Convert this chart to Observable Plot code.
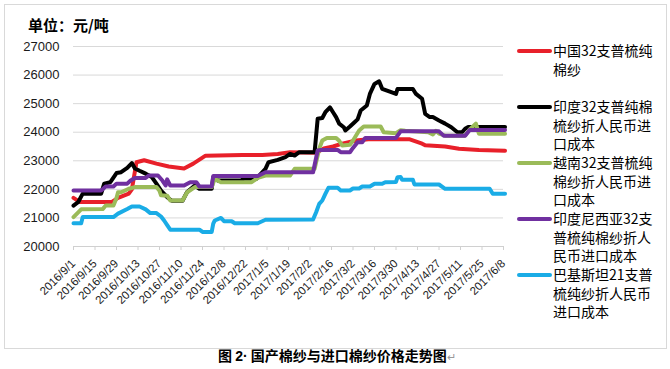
<!DOCTYPE html>
<html>
<head>
<meta charset="utf-8">
<script src="https://cdn.jsdelivr.net/npm/d3@7"></script>
<script src="https://cdn.jsdelivr.net/npm/@observablehq/plot@0.6"></script>
<style>
  html, body { margin: 0; padding: 0; background: #fff; overflow: hidden; }
  #wrap { position: relative; width: 670px; height: 369px; background: #fff; font-family: "Noto Sans CJK SC", "Liberation Sans", sans-serif; }
  #frame { position: absolute; left: 4px; top: 4px; width: 661px; height: 343px; border: 1px solid #d9d9d9; }
  #title { position: absolute; left: 28px; top: 17px; font-size: 15px; line-height: 16px; font-weight: bold; color: #000; white-space: nowrap; }
  #chart { position: absolute; left: 0; top: 0; }
  .lg-sw { position: absolute; left: 517px; width: 35px; height: 4px; border-radius: 2px; }
  .lg-tx { position: absolute; left: 553px; font-size: 14px; line-height: 18.5px; color: #000; white-space: nowrap; }
  #caption { position: absolute; left: 218px; top: 348px; font-size: 14px; line-height: 15px; font-weight: bold; color: #000; white-space: nowrap; }
  #caption .lat { font-family: "Liberation Sans", Arial, sans-serif; }
  #caption .pm { font-weight: normal; color: #999; font-size: 11px; }
</style>
</head>
<body>
<div id="wrap">
  <div id="frame"></div>
  <div id="chart"></div>
  <div id="title">单位：元/吨</div>
  <div id="legend"></div>
  <div id="caption">图 <span class="lat">2·</span> 国产棉纱与进口棉纱价格走势图<span class="pm">↵</span></div>
</div>
<script>
// ---- tick labels ----
const xTickLabels = ["2016/9/1","2016/9/15","2016/9/29","2016/10/13","2016/10/27","2016/11/10","2016/11/24","2016/12/8","2016/12/22","2017/1/5","2017/1/19","2017/2/2","2017/2/16","2017/3/2","2017/3/16","2017/3/30","2017/4/13","2017/4/27","2017/5/11","2017/5/25","2017/6/8"];
const yTicks = [20000, 21000, 22000, 23000, 24000, 25000, 26000, 27000];

// ---- series names (legend lines) ----
const seriesNames = [
  ["中国32支普梳纯", "棉纱"],
  ["印度32支普纯棉", "梳纱折人民币进", "口成本"],
  ["越南32支普梳纯", "棉纱折人民币进", "口成本"],
  ["印度尼西亚32支", "普梳纯棉纱折人", "民币进口成本"],
  ["巴基斯坦21支普", "梳纯纱折人民币", "进口成本"]
];
const seriesColors = ["#e8202a", "#000000", "#9bbb59", "#7030a0", "#1aace6"];

// ---- series values [date, 元/吨] ----
const china = [
  ["2016/9/1",21700],["2016/9/5",21560],["2016/9/26",21560],["2016/9/30",21700],["2016/10/7",21850],
  ["2016/10/9",22000],["2016/10/12",22950],["2016/10/17",23020],["2016/10/25",22900],["2016/11/2",22800],
  ["2016/11/12",22730],["2016/11/18",22900],["2016/11/26",23180],["2016/12/20",23200],["2017/1/2",23200],
  ["2017/1/12",23240],["2017/1/20",23300],["2017/2/6",23280],["2017/2/11",23430],["2017/2/17",23500],
  ["2017/2/23",23600],["2017/3/4",23710],["2017/3/12",23750],["2017/4/8",23750],["2017/4/16",23600],
  ["2017/4/18",23540],["2017/5/1",23500],["2017/5/10",23420],["2017/5/23",23380],["2017/6/9",23350]
];
const india = [
  ["2016/9/1",21430],["2016/9/4",21550],["2016/9/7",21850],["2016/9/19",21850],["2016/9/21",22200],
  ["2016/9/25",22250],["2016/9/29",22570],["2016/10/2",22600],["2016/10/6",22750],["2016/10/9",22920],
  ["2016/10/11",22730],["2016/10/14",22650],["2016/10/18",22550],["2016/10/22",22430],["2016/10/25",22200],
  ["2016/10/28",21960],["2016/11/1",21725],["2016/11/4",21600],["2016/11/11",21600],["2016/11/14",21910],
  ["2016/11/19",22135],["2016/11/22",22020],["2016/11/30",22020],["2016/12/1",22420],["2016/12/4",22310],
  ["2016/12/19",22310],["2016/12/21",22370],["2016/12/29",22370],["2017/1/4",22720],["2017/1/6",22950],
  ["2017/1/12",23030],["2017/1/17",23130],["2017/1/20",23240],["2017/1/23",23185],["2017/1/26",23300],
  ["2017/2/5",23300],["2017/2/7",24470],["2017/2/10",24500],["2017/2/12",24700],["2017/2/15",24870],
  ["2017/2/17",24700],["2017/2/19",24530],["2017/2/21",24300],["2017/2/24",24175],["2017/2/25",24060],
  ["2017/2/28",24200],["2017/3/3",24350],["2017/3/5",24450],["2017/3/7",24760],["2017/3/11",24935],
  ["2017/3/13",25340],["2017/3/16",25690],["2017/3/19",25780],["2017/3/21",25520],["2017/3/26",25420],
  ["2017/3/30",25340],["2017/3/31",25515],["2017/4/10",25515],["2017/4/12",25340],["2017/4/16",25170],
  ["2017/4/18",24640],["2017/4/21",24530],["2017/4/23",24530],["2017/4/27",24410],["2017/5/1",24300],
  ["2017/5/5",24175],["2017/5/9",24000],["2017/5/12",24000],["2017/5/14",24120],["2017/5/16",24180],
  ["2017/6/9",24180]
];
const vietnam = [
  ["2016/9/1",21030],["2016/9/6",21300],["2016/9/20",21310],["2016/9/22",21435],["2016/9/27",21435],
  ["2016/9/29",21700],["2016/9/30",21900],["2016/10/2",21900],["2016/10/7",22020],["2016/10/11",22080],
  ["2016/10/25",22080],["2016/10/27",21950],["2016/10/28",21790],["2016/11/1",21780],["2016/11/3",21610],
  ["2016/11/11",21610],["2016/11/14",21900],["2016/11/19",22080],["2016/11/30",22080],["2016/12/2",22370],
  ["2016/12/6",22250],["2016/12/26",22250],["2016/12/30",22400],["2017/1/4",22485],["2017/1/20",22485],
  ["2017/1/23",22720],["2017/2/5",22720],["2017/2/8",23420],["2017/2/10",23710],["2017/2/13",23800],
  ["2017/2/19",23800],["2017/2/21",23700],["2017/2/23",23535],["2017/2/28",23560],["2017/3/2",23710],
  ["2017/3/6",24060],["2017/3/9",24200],["2017/3/20",24200],["2017/3/22",24000],["2017/3/30",23965],
  ["2017/4/2",24070],["2017/4/5",24050],["2017/4/10",24030],["2017/4/20",24000],["2017/4/23",23920],
  ["2017/4/25",24050],["2017/4/27",23950],["2017/5/1",23880],["2017/5/14",23880],["2017/5/17",24100],
  ["2017/5/21",24300],["2017/5/23",23950],["2017/6/9",23950]
];
const indonesia = [
  ["2016/9/1",21960],["2016/9/19",21960],["2016/9/22",22100],["2016/9/27",22100],["2016/9/29",22200],
  ["2016/10/6",22200],["2016/10/8",22300],["2016/10/11",22400],["2016/10/18",22400],["2016/10/20",22485],
  ["2016/10/26",22485],["2016/10/29",22300],["2016/10/31",22135],["2016/11/1",22350],["2016/11/3",22135],
  ["2016/11/12",22135],["2016/11/16",22250],["2016/11/20",22250],["2016/11/22",22100],["2016/11/30",22100],
  ["2016/12/1",22470],["2016/12/30",22470],["2017/1/4",22600],["2017/2/4",22600],["2017/2/7",23360],
  ["2017/2/9",23380],["2017/2/20",23380],["2017/2/22",23300],["2017/2/28",23300],["2017/3/2",23450],
  ["2017/3/5",23650],["2017/3/8",23650],["2017/3/10",23800],["2017/3/30",23800],["2017/4/2",24030],
  ["2017/4/27",24030],["2017/4/30",23880],["2017/5/14",23880],["2017/5/17",24080],["2017/6/9",24080]
];
const pakistan = [
  ["2016/9/1",20810],["2016/9/6",20810],["2016/9/7",21030],["2016/9/27",21030],["2016/9/30",21150],
  ["2016/10/6",21310],["2016/10/9",21400],["2016/10/14",21400],["2016/10/18",21300],["2016/10/21",21170],
  ["2016/10/25",21170],["2016/10/28",21050],["2016/10/30",20910],["2016/11/1",20750],["2016/11/3",20590],
  ["2016/11/22",20590],["2016/11/24",20510],["2016/11/30",20510],["2016/12/1",20800],["2016/12/2",20910],
  ["2016/12/6",21000],["2016/12/8",20885],["2016/12/13",20885],["2016/12/15",20815],["2016/12/30",20815],
  ["2017/1/4",20935],["2017/2/4",20945],["2017/2/6",21200],["2017/2/8",21490],["2017/2/10",21610],
  ["2017/2/12",21840],["2017/2/14",22055],["2017/2/20",22055],["2017/2/22",21960],["2017/2/28",21960],
  ["2017/3/2",22030],["2017/3/6",22030],["2017/3/8",22100],["2017/3/13",22100],["2017/3/16",22195],
  ["2017/3/21",22195],["2017/3/23",22250],["2017/3/30",22260],["2017/3/31",22425],["2017/4/2",22430],
  ["2017/4/3",22335],["2017/4/10",22335],["2017/4/11",22170],["2017/4/27",22170],["2017/5/1",22020],
  ["2017/5/30",22020],["2017/6/1",21845],["2017/6/9",21845]
];
const seriesData = [china, india, vietnam, indonesia, pakistan];

// ---- build ----
const parseDate = s => { const [y, m, d] = s.split("/").map(Number); return new Date(Date.UTC(y, m - 1, d)); };
const xTicks = xTickLabels.map(parseDate);
const tables = seriesData.map(arr => arr.map(([d, v]) => ({date: parseDate(d), value: v})));

const lineMarks = tables.map((t, i) => Plot.line(t, {
  x: "date", y: "value", stroke: seriesColors[i], strokeWidth: 4,
  strokeLinejoin: "round", strokeLinecap: "round"
}));

const chart = Plot.plot({
  width: 670,
  height: 340,
  marginLeft: 73,
  marginRight: 167,
  marginTop: 46,
  marginBottom: 94,
  style: {background: "transparent", fontFamily: "'Liberation Sans', Arial, sans-serif", overflow: "visible"},
  x: {type: "utc", domain: [xTicks[0], xTicks[xTicks.length - 1]]},
  y: {domain: [yTicks[0], yTicks[yTicks.length - 1]]},
  marks: [
    Plot.ruleY(yTicks.slice(1), {stroke: "#d9d9d9", strokeWidth: 1}),
    Plot.axisY({ticks: yTicks, tickSize: 0, tickPadding: 14, tickFormat: d => String(d), fontSize: 13, fill: "#1a1a1a", label: null}),
    Plot.ruleY([yTicks[0]], {stroke: "#d0d0d0", strokeWidth: 1}),
    Plot.axisX({ticks: xTicks, tickFormat: (d, i) => xTickLabels[i], tickRotate: -45, tickSize: 4, tickPadding: 11,
      stroke: "#d0d0d0", fontSize: 11.5, fill: "#1a1a1a", label: null}),
    ...lineMarks
  ]
});
document.getElementById("chart").appendChild(chart);

// ---- legend ----
const swatchY = [50.7, 106.7, 162.5, 218.7, 274.5];
const legend = document.getElementById("legend");
seriesNames.forEach((lines, i) => {
  const sw = document.createElement("div");
  sw.className = "lg-sw";
  sw.style.top = (swatchY[i] - 2) + "px";
  sw.style.background = seriesColors[i];
  legend.appendChild(sw);
  const tx = document.createElement("div");
  tx.className = "lg-tx";
  tx.style.top = (swatchY[i] - 9.5) + "px";
  tx.innerHTML = lines.join("<br>");
  legend.appendChild(tx);
});
</script>
</body>
</html>
